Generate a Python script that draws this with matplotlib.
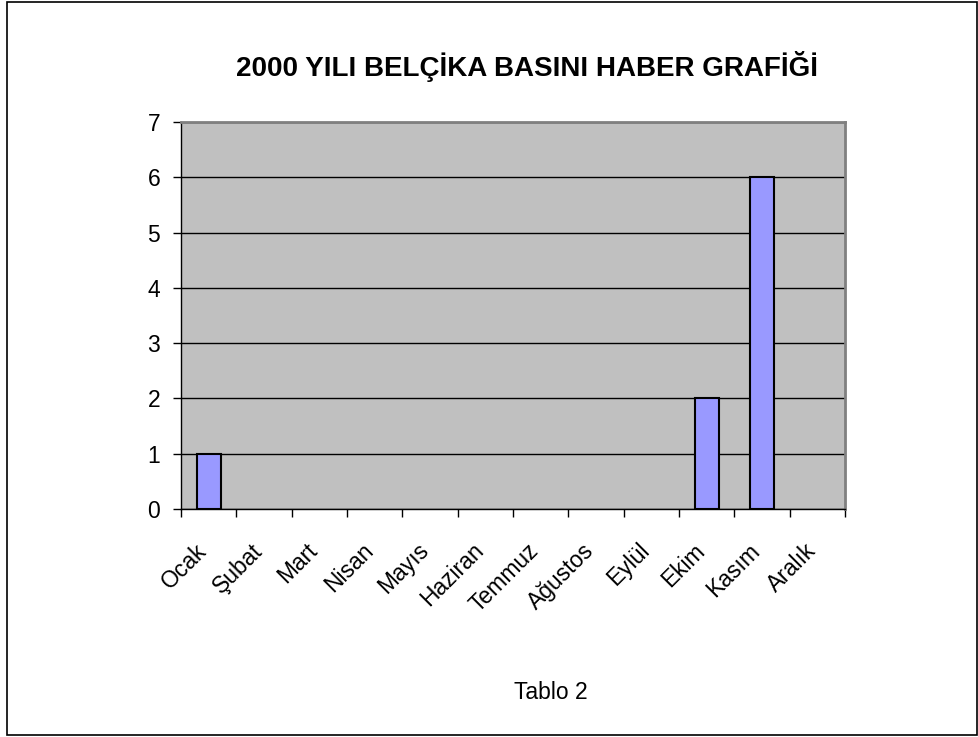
import numpy as np
import matplotlib
matplotlib.use("Agg")
import matplotlib.pyplot as plt
from matplotlib.patches import Rectangle

plt.rcParams['font.family'] = ['Liberation Sans', 'DejaVu Sans']

# chart data
months = ['Ocak', 'Şubat', 'Mart', 'Nisan', 'Mayıs', 'Haziran',
          'Temmuz', 'Ağustos', 'Eylül', 'Ekim', 'Kasım', 'Aralık']
news_counts = [1, 0, 0, 0, 0, 0, 0, 0, 0, 2, 6, 0]
y_ticks = [0, 1, 2, 3, 4, 5, 6, 7]

W, H = 979, 737
fig = plt.figure(figsize=(W / 100, H / 100), dpi=100)

# outer chart border (Excel style)
fig.patches.append(Rectangle((7 / W, 1 - 735 / H), 970 / W, 733 / H,
                             transform=fig.transFigure, fill=False,
                             edgecolor='black', linewidth=1.2))

# plot area
left, right, top, bottom = 181, 845, 122, 509
ax = fig.add_axes([left / W, 1 - bottom / H, (right - left) / W, (bottom - top) / H])
ax.set_facecolor('#C0C0C0')

x = np.arange(len(months))
counts = np.array(news_counts)
shown = counts > 0  # empty months get no bar outline
ax.bar(x[shown], counts[shown], width=0.43, color='#9999FF', edgecolor='black',
       linewidth=1.5, zorder=3)

ax.set_xlim(-0.5, len(months) - 0.5)
ax.set_ylim(0, 7)
ax.set_yticks(y_ticks)
ax.yaxis.grid(True, color='black', linewidth=1, zorder=0)
ax.set_axisbelow(True)

# category boundary ticks, labels at category centers
ax.set_xticks(np.arange(len(months) + 1) - 0.5)
ax.set_xticklabels([])
ax.tick_params(axis='x', direction='out', length=6, width=1, color='black')
ax.tick_params(axis='y', direction='out', length=6, width=1, labelsize=16.5, pad=9)
for i, m in enumerate(months):
    ax.annotate(m, xy=(i, 0), xycoords=('data', 'axes fraction'),
                xytext=(3, -30), textcoords='offset pixels',
                rotation=45, ha='right', va='top', fontsize=16.5)

for side in ['top', 'right']:
    ax.spines[side].set_color('#808080')
    ax.spines[side].set_linewidth(2)
for side in ['left', 'bottom']:
    ax.spines[side].set_color('black')
    ax.spines[side].set_linewidth(1)

fig.text(527 / W, 1 - 76 / H, '2000 YILI BELÇİKA BASINI HABER GRAFİĞİ',
         ha='center', va='baseline', fontsize=20, fontweight='bold')
fig.text(551 / W, 1 - 699 / H, 'Tablo 2', ha='center', va='baseline', fontsize=16.5)

fig.savefig('out.png', dpi=100, facecolor='white')
